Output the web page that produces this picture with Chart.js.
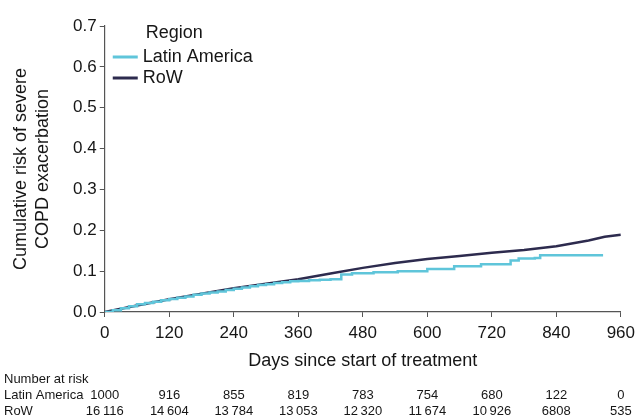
<html>
<head>
  <script src="https://cdn.jsdelivr.net/npm/chart.js"></script>
  <style>
    body { margin: 0; background: #fff; }
    #wrap { width: 641px; height: 418px; }
  </style>
</head>
<body>
<div id="wrap"><canvas id="myChart" width="641" height="418"></canvas></div>
<script>
  const xTicks = [0, 120, 240, 360, 480, 600, 720, 840, 960];

  // Latin America (step curve)
  const laDays = [0, 15, 30, 45, 60, 75, 90, 105, 120, 135, 150, 165, 180, 195, 210, 225, 240, 255, 270, 285, 300, 315, 330, 345, 360, 380, 400, 420, 440, 460, 500, 545, 600, 650, 700, 755, 770, 800, 810, 927];
  const laRisk = [0, 0.004, 0.009, 0.014, 0.019, 0.022, 0.025, 0.029, 0.032, 0.035, 0.038, 0.042, 0.045, 0.048, 0.050, 0.054, 0.057, 0.060, 0.063, 0.066, 0.068, 0.071, 0.073, 0.075, 0.076, 0.078, 0.079, 0.080, 0.092, 0.095, 0.097, 0.100, 0.105, 0.112, 0.117, 0.126, 0.131, 0.132, 0.139, 0.139];

  // Rest of world
  const rowDays = [0, 60, 120, 180, 240, 300, 360, 420, 480, 540, 600, 660, 720, 780, 840, 900, 930, 960];
  const rowRisk = [0, 0.016, 0.031, 0.045, 0.058, 0.069, 0.080, 0.094, 0.108, 0.120, 0.130, 0.137, 0.145, 0.152, 0.161, 0.175, 0.184, 0.189];

  const atRiskLabel = ['Latin America', 'RoW'];
  const atRiskLA = ['1000', '916', '855', '819', '783', '754', '680', '122', '0'];
  const atRiskRoW = ['16\u2009116', '14\u2009604', '13\u2009784', '13\u2009053', '12\u2009320', '11\u2009674', '10\u2009926', '6808', '535'];

  const font = "'Liberation Sans', Arial, sans-serif";
  const ink = '#161616';

  // legend inside the plot, top left
  const legendBox = {
    id: 'legendBox',
    afterDraw(chart) {
      const ctx = chart.ctx;
      const left = chart.chartArea.left;
      ctx.save();
      ctx.font = '18px ' + font;
      ctx.fillStyle = ink;
      ctx.textBaseline = 'middle';
      ctx.textAlign = 'left';
      ctx.fillText('Region', left + 41, 33);
      chart.data.datasets.forEach((ds, i) => {
        const y = 57 + i * 21;
        ctx.strokeStyle = ds.borderColor;
        ctx.lineWidth = 3;
        ctx.beginPath();
        ctx.moveTo(left + 8, y);
        ctx.lineTo(left + 33, y);
        ctx.stroke();
        ctx.fillText(ds.label, left + 38, y);
      });
      ctx.restore();
    }
  };

  const riskTable = {
    id: 'riskTable',
    afterDraw(chart) {
      const ctx = chart.ctx;
      const x = chart.scales.x;
      ctx.save();
      ctx.fillStyle = ink;
      ctx.font = '13px ' + font;
      ctx.textBaseline = 'middle';
      ctx.textAlign = 'left';
      ctx.fillText('Number at risk', 4, 379);
      ctx.fillText(atRiskLabel[0], 4, 395);
      ctx.fillText(atRiskLabel[1], 4, 411);
      ctx.textAlign = 'center';
      xTicks.forEach((d, i) => {
        const px = x.getPixelForValue(d);
        ctx.fillText(atRiskLA[i], px, 395);
        ctx.fillText(atRiskRoW[i], px, 411);
      });
      ctx.restore();
    }
  };

  new Chart(document.getElementById('myChart'), {
    type: 'line',
    data: {
      datasets: [{
        label: 'Latin America',
        data: laDays.map((d, i) => ({ x: d, y: laRisk[i] })),
        borderColor: '#5fc5da',
        borderWidth: 2.5,
        stepped: true,
        pointRadius: 0
      }, {
        label: 'RoW',
        data: rowDays.map((d, i) => ({ x: d, y: rowRisk[i] })),
        borderColor: '#2d2b4e',
        borderWidth: 2.5,
        pointRadius: 0
      }]
    },
    options: {
      responsive: false,
      animation: false,
      layout: { padding: { top: 26, right: 0, bottom: 44, left: 11 } },
      plugins: {
        tooltip: { enabled: false },
        legend: { display: false }
      },
      scales: {
        x: {
          type: 'linear',
          min: 0, max: 960,
          afterBuildTicks: axis => { axis.ticks = xTicks.map(v => ({ value: v })); },
          grid: { drawOnChartArea: false, drawTicks: true, tickLength: 5, color: '#555' },
          border: { color: '#555', width: 1.2 },
          ticks: { color: ink, font: { family: font, size: 17 }, padding: 6 },
          title: { display: true, text: 'Days since start of treatment', color: ink, font: { family: font, size: 18 }, padding: { top: 1, bottom: 2 } }
        },
        y: {
          min: 0, max: 0.7,
          ticks: { stepSize: 0.1, color: ink, font: { family: font, size: 17 }, padding: 3, callback: v => v.toFixed(1) },
          grid: { drawOnChartArea: false, drawTicks: true, tickLength: 5, color: '#555' },
          border: { color: '#555', width: 1.2 },
          title: { display: true, text: ['Cumulative risk of severe', 'COPD exacerbation'], color: ink, font: { family: font, size: 18, lineHeight: 1.17 }, padding: { top: 0, bottom: 17 } }
        }
      }
    },
    plugins: [legendBox, riskTable]
  });
</script>
</body>
</html>
